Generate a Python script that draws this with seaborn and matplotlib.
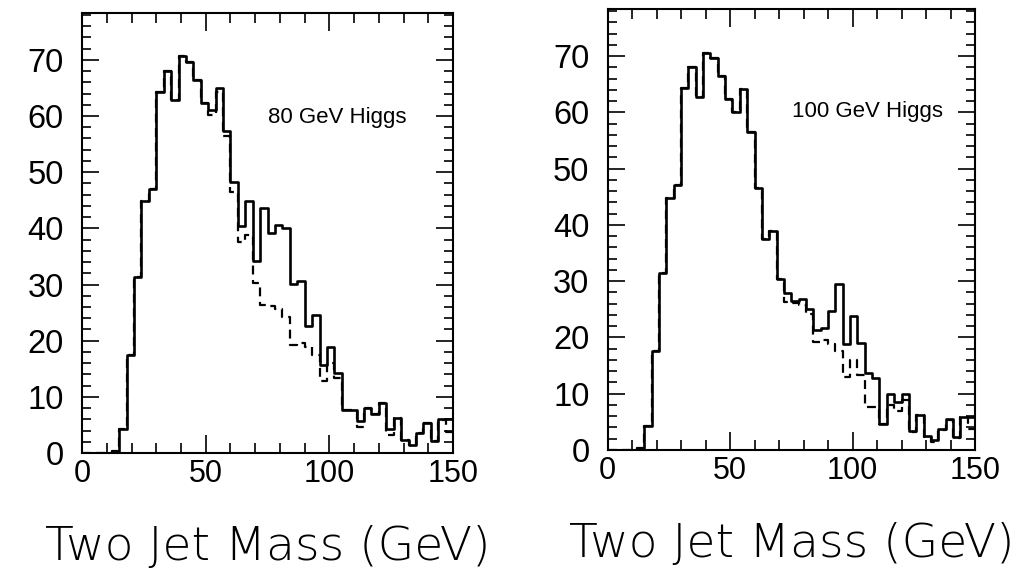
import numpy as np
import pandas as pd
import matplotlib
matplotlib.use("Agg")
import matplotlib.pyplot as plt
from matplotlib.ticker import MultipleLocator
import seaborn as sns

# ---- data: 50 bins of 3 GeV from 0 to 150 ----
n_bins = 50
mass_range = (0, 150)
bin_centers = np.arange(1.5, 150, 3)

background = [0, 0, 0, 0, 0.3, 4.2, 17.5, 31.4, 44.8, 47.0,
              64.3, 68.0, 62.8, 70.6, 69.7, 66.4, 62.4, 60.1, 64.2, 56.5,
              46.5, 37.5, 38.9, 30.3, 26.3, 26.2, 25.7, 24.2, 19.2, 19.6,
              18.8, 17.5, 12.9, 16.0, 13.3, 7.6, 7.6, 4.7, 8.0, 6.9,
              8.9, 3.2, 6.2, 2.3, 1.5, 3.6, 5.4, 2.2, 5.9, 3.7]

total_80 = [0, 0, 0, 0, 0.3, 4.2, 17.5, 31.4, 44.8, 47.0,
            64.3, 68.0, 62.8, 70.6, 69.7, 66.4, 62.4, 61.1, 65.0, 57.3,
            48.3, 40.5, 44.8, 34.1, 43.6, 39.1, 40.6, 40.0, 30.1, 30.6,
            22.6, 24.5, 15.7, 18.8, 14.3, 7.6, 7.6, 5.7, 8.1, 6.9,
            8.9, 4.3, 6.3, 2.3, 1.4, 3.6, 5.4, 2.2, 6.0, 6.0]

total_100 = [0, 0, 0, 0, 0.3, 4.2, 17.5, 31.4, 44.8, 47.0,
             64.3, 68.0, 62.8, 70.6, 69.7, 66.4, 62.4, 60.1, 64.2, 56.5,
             46.5, 37.5, 38.9, 30.3, 27.9, 26.4, 26.8, 25.0, 21.4, 21.6,
             24.7, 29.5, 18.9, 23.8, 19.0, 13.6, 12.8, 4.7, 10.0, 8.5,
             9.9, 3.3, 6.2, 2.4, 1.7, 3.7, 5.5, 2.3, 5.9, 5.8]

panel_labels = ["80 GeV Higgs", "100 GeV Higgs"]
x_label = "Two Jet Mass (GeV)"
x_ticks = [0, 50, 100, 150]
y_ticks = [0, 10, 20, 30, 40, 50, 60, 70]

df = pd.DataFrame({"mass": bin_centers, "bkg": background,
                   "h80": total_80, "h100": total_100})

sns.set_theme(style="ticks")
plt.rcParams["font.family"] = ["Liberation Sans", "DejaVu Sans"]
plt.rcParams.update({"text.color": "black", "axes.labelcolor": "black",
                     "xtick.color": "black", "ytick.color": "black",
                     "axes.edgecolor": "black"})

fig = plt.figure(figsize=(10.18, 5.76), dpi=100)
axes = [fig.add_axes([0.0806, 0.2135, 0.3645, 0.7635]),
        fig.add_axes([0.5968, 0.2188, 0.3610, 0.7650])]

panels = [("h80", panel_labels[0], (103.0, 58.8)),
          ("h100", panel_labels[1], (106.3, 59.1))]

for ax, (col, lab, pos) in zip(axes, panels):
    sns.histplot(data=df, x="mass", weights="bkg", bins=n_bins,
                 binrange=mass_range,
                 element="step", fill=False, color="black",
                 linewidth=1.6, linestyle=(0, (4, 2.5)), ax=ax)
    sns.histplot(data=df, x="mass", weights=col, bins=n_bins,
                 binrange=mass_range,
                 element="step", fill=False, color="black",
                 linewidth=1.9, ax=ax)
    ax.set_xlim(0, 150)
    ax.set_ylim(0, 78.3)
    ax.set_xticks(x_ticks)
    ax.set_yticks(y_ticks)
    ax.xaxis.set_minor_locator(MultipleLocator(10))
    ax.yaxis.set_minor_locator(MultipleLocator(2))
    ax.tick_params(which="both", direction="in", top=True, right=True,
                   color="black", labelcolor="black", width=1.2)
    ax.tick_params(axis="x", which="major", length=13, pad=4, labelsize=22)
    ax.tick_params(axis="x", which="minor", length=7)
    ax.tick_params(axis="y", which="major", length=12, pad=13, labelsize=23.5)
    ax.tick_params(axis="y", which="minor", length=6.5)
    for sp in ax.spines.values():
        sp.set_visible(True)
        sp.set_color("black")
        sp.set_linewidth(1.5)
    ax.set_ylabel("")
    ax.set_xlabel(x_label, fontsize=34, family=["DejaVu Sans"],
                  fontweight="light", labelpad=26, color="black")
    ax.text(pos[0], pos[1], lab, ha="center", va="baseline", fontsize=16,
            color="black")
    ax.set_facecolor("white")

fig.savefig("out.png", dpi=100, facecolor="white")
